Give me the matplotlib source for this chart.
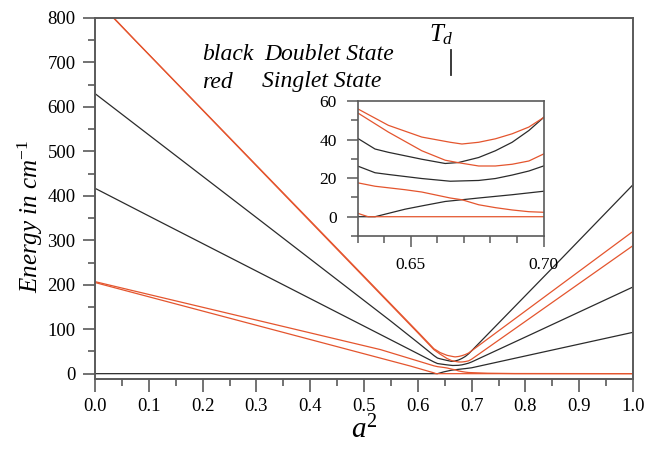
import matplotlib
matplotlib.use("Agg")
import matplotlib.pyplot as plt
from matplotlib.ticker import MultipleLocator, FixedLocator, FormatStrFormatter

plt.rcParams['font.family'] = ['Liberation Serif', 'DejaVu Serif']
plt.rcParams['mathtext.fontset'] = 'custom'
plt.rcParams['mathtext.rm'] = 'Liberation Serif'
plt.rcParams['mathtext.it'] = 'Liberation Serif:italic'

# ---- data (a^2, energy in cm^-1) ----
# Doublet states (black)
b1_x = [0.0, 0.3056, 0.55, 0.60, 0.63, 0.6366, 0.6416, 0.6542, 0.6630, 0.668, 0.6756, 0.6819, 0.6882, 0.6945, 0.70, 0.86, 1.0]
b1_y = [630, 346, 118, 70, 40.7, 35.1, 33.4, 29.8, 27.6, 28.1, 30.7, 34.2, 38.6, 44.7, 51.4, 250, 425]
b2_x = [0.0, 0.114, 0.55, 0.60, 0.63, 0.6366, 0.6416, 0.6542, 0.6649, 0.6756, 0.6819, 0.6882, 0.6945, 0.70, 0.81, 1.0]
b2_y = [417, 346, 76, 45, 26.3, 22.8, 21.9, 19.8, 18.4, 18.8, 19.8, 21.6, 23.7, 26.3, 88, 195]
b3_x = [0.0, 0.6366, 0.6479, 0.6542, 0.6630, 0.6693, 0.6756, 0.6882, 0.70, 0.81, 1.0]
b3_y = [0, 0, 3.9, 5.6, 7.9, 8.8, 9.7, 11.4, 13.2, 42.5, 93]
# Singlet states (red)
r1_x = [0.0, 0.0745, 0.40, 0.60, 0.63, 0.6416, 0.6542, 0.6649, 0.6693, 0.6756, 0.6819, 0.6882, 0.6945, 0.70, 1.0]
r1_y = [845, 750, 344, 94, 56, 47.4, 41.3, 38.6, 37.7, 38.6, 40.4, 43, 46.5, 51.4, 320]
r2_x = [0.0, 0.60, 0.63, 0.6416, 0.6542, 0.6630, 0.668, 0.6756, 0.6819, 0.6882, 0.6945, 0.70, 1.0]
r2_y = [843, 92, 53.9, 43.9, 34.2, 29.3, 28, 26.3, 26.3, 27.2, 28.9, 32.5, 288]
r3_x = [0.0, 0.531, 0.63, 0.6366, 0.6479, 0.6542, 0.6649, 0.6693, 0.6756, 0.6819, 0.6882, 0.6945, 0.70, 0.73, 0.78, 1.0]
r3_y = [207, 54, 17.6, 15.8, 14, 12.8, 9.7, 8.8, 6.2, 4.7, 3.5, 2.6, 2.3, 1.0, 0.3, 0]
r4_x = [0.0, 0.5866, 0.63, 0.634, 1.0]
r4_y = [205, 17, 1.8, 0, 0]

black_curves = [(b1_x, b1_y), (b2_x, b2_y), (b3_x, b3_y)]
red_curves = [(r1_x, r1_y), (r2_x, r2_y), (r3_x, r3_y), (r4_x, r4_y)]

td_x = 0.661
x_ticks = [0.0, 0.1, 0.2, 0.3, 0.4, 0.5, 0.6, 0.7, 0.8, 0.9, 1.0]
y_ticks = [0, 100, 200, 300, 400, 500, 600, 700, 800]
inset_x_ticks = [0.65, 0.70]
inset_y_ticks = [0, 20, 40, 60]

BLACK = '#2b2b2b'
RED = '#e4552e'
SPINE = '#5a5a5a'

W, H = 645, 451
fig = plt.figure(figsize=(W / 100, H / 100), dpi=100)
ax = fig.add_axes([95 / W, 1 - 379 / H, 538 / W, 361 / H])

for xs, ys in black_curves:
    ax.plot(xs, ys, color=BLACK, lw=0.9)
for xs, ys in red_curves:
    ax.plot(xs, ys, color=RED, lw=0.9)

ax.set_xlim(0, 1)
ax.set_ylim(-12, 800)
ax.xaxis.set_major_locator(FixedLocator(x_ticks))
ax.xaxis.set_minor_locator(MultipleLocator(0.05))
ax.yaxis.set_major_locator(FixedLocator(y_ticks))
ax.yaxis.set_minor_locator(MultipleLocator(50))
ax.xaxis.set_major_formatter(FormatStrFormatter('%.1f'))
ax.tick_params(which='major', direction='out', length=9, width=1.2, color=SPINE,
               labelsize=13.5, pad=5)
ax.tick_params(which='minor', direction='out', length=5, width=1.2, color=SPINE)
for s in ax.spines.values():
    s.set_color(SPINE)
    s.set_linewidth(1.4)

ax.set_ylabel('Energy in cm$^{-1}$', fontsize=18, style='italic')
ax.yaxis.set_label_coords(-0.093, 0.45)
ax.set_xlabel('$a^2$', fontsize=21, labelpad=0)

# T_d marker
ax.plot([td_x, td_x], [672, 728], color=BLACK, lw=1.3)
ax.text(td_x - 0.017, 763, '$T_d$', fontsize=18, ha='center', va='center')

fig.text(202 / W, 1 - 55 / H, 'black', fontsize=17, style='italic', va='center')
fig.text(264 / W, 1 - 55 / H, 'Doublet State', fontsize=17, style='italic', va='center')
fig.text(202 / W, 1 - 82 / H, 'red', fontsize=17, style='italic', va='center')
fig.text(262 / W, 1 - 82 / H, 'Singlet State', fontsize=17, style='italic', va='center')

# inset
axi = fig.add_axes([357.5 / W, 1 - 236 / H, 186 / W, 135 / H])
for xs, ys in black_curves:
    axi.plot(xs, ys, color=BLACK, lw=0.9)
for xs, ys in red_curves:
    axi.plot(xs, ys, color=RED, lw=0.9)
axi.set_xlim(0.63, 0.70)
axi.set_ylim(-10, 60)
axi.xaxis.set_major_locator(FixedLocator(inset_x_ticks))
axi.xaxis.set_minor_locator(MultipleLocator(0.01))
axi.yaxis.set_major_locator(FixedLocator(inset_y_ticks))
axi.yaxis.set_minor_locator(MultipleLocator(10))
axi.xaxis.set_major_formatter(FormatStrFormatter('%.2f'))
axi.tick_params(which='major', direction='out', length=8, width=1.1, color=SPINE,
                labelsize=12.5, pad=7)
axi.tick_params(which='minor', direction='out', length=5, width=1.1, color=SPINE)
for s in axi.spines.values():
    s.set_color(SPINE)
    s.set_linewidth(1.2)

fig.savefig('out.png', dpi=100)
